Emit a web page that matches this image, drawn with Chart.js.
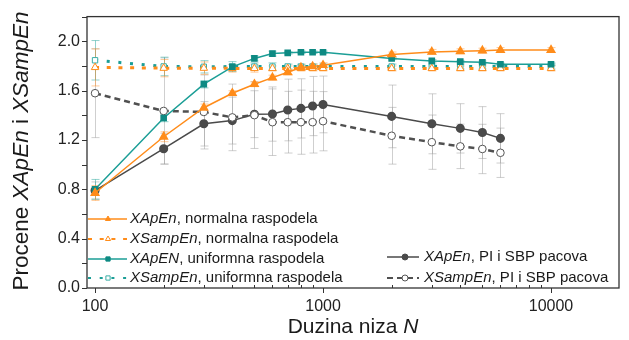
<!DOCTYPE html>
<html><head><meta charset="utf-8">
<script src="https://cdn.jsdelivr.net/npm/chart.js@4/dist/chart.umd.min.js"></script>
<style>html,body{margin:0;padding:0;background:#fff}</style>
</head><body>
<canvas id="c" width="629" height="340"></canvas>
<script>
// ---- data ----
const nAll = [100,200,300,400,500,600,700,800,900,1000,2000,3000,4000,5000,6000,10000];
const nRat = [100,200,300,400,500,600,700,800,900,1000,2000,3000,4000,5000,6000];

const xapenNormal      = [0.77,1.226,1.461,1.579,1.652,1.705,1.749,1.788,1.796,1.806,1.893,1.914,1.919,1.924,1.929,1.929];
const xapenNormalErr   = [0.06,0.04,0.03,0.02,0.02,0.02,0.02,0.02,0.02,0.02,0.02,0.02,0.02,0.02,0.02,0.02];
const xsampenNormal    = [1.788,1.782,1.782,1.78,1.78,1.78,1.78,1.78,1.78,1.78,1.78,1.78,1.78,1.78,1.78,1.78];
const xsampenNormalErr = [0.15,0.07,0.05,0.03,0.03,0.02,0.02,0.02,0.02,0.02,0.02,0.02,0.02,0.02,0.02,0.02];
const xapenUniform     = [0.80,1.378,1.652,1.793,1.861,1.90,1.906,1.911,1.911,1.911,1.861,1.841,1.835,1.83,1.814,1.814];
const xapenUniformErr  = [0.08,0.03,0.03,0.02,0.02,0.02,0.01,0.01,0.01,0.01,0.01,0.01,0.01,0.01,0.01,0.01];
const xsampenUniform   = [1.846,1.796,1.793,1.795,1.795,1.795,1.795,1.795,1.795,1.795,1.795,1.795,1.795,1.795,1.795,1.795];
const xsampenUniformErr= [0.16,0.075,0.05,0.04,0.03,0.03,0.02,0.02,0.02,0.02,0.02,0.02,0.02,0.02,0.02,0.02];
const xapenRat         = [0.79,1.129,1.331,1.357,1.409,1.41,1.443,1.456,1.475,1.488,1.391,1.331,1.294,1.26,1.213];
const xapenRatErr      = [0.07,0.125,0.18,0.19,0.19,0.22,0.25,0.24,0.24,0.23,0.254,0.243,0.2,0.21,0.2];
const xsampenRat       = [1.579,1.435,1.427,1.383,1.401,1.344,1.344,1.344,1.344,1.352,1.234,1.182,1.148,1.127,1.096];
const xsampenRatErr    = [0.36,0.43,0.3,0.27,0.27,0.27,0.25,0.26,0.25,0.24,0.23,0.22,0.18,0.2,0.2];

const xTickValues = [100,200,300,400,500,600,700,800,900,1000,2000,3000,4000,5000,6000,7000,8000,9000,10000];
const xLabelValues = [100,1000,10000];
const yLabelStep = 0.4;

const FONT = "'Liberation Sans', Arial, sans-serif";
const ORANGE = '#ff8c1a', TEAL = '#1b9e96', TEALM = '#0e8a83', GRAY = '#4a4a4a';

function pts(xs, ys){ return xs.map((x,i)=>({x:x, y:ys[i]})); }

const datasets = [
  {label:'XApEn, PI i SBP pacova', data:pts(nRat,xapenRat), err:xapenRatErr, errColor:'rgba(160,160,160,0.5)',
   borderColor:GRAY, borderWidth:1.5, pointStyle:'circle', pointRadius:3.8, pointBackgroundColor:GRAY, pointBorderColor:GRAY, order:6},
  {label:'XSampEn, PI i SBP pacova', data:pts(nRat,xsampenRat), err:xsampenRatErr, errColor:'rgba(160,160,160,0.5)',
   borderColor:'#505050', borderWidth:2.5, borderDash:[6,4], pointStyle:'circle', pointRadius:3.8, pointBackgroundColor:'#fff', pointBorderColor:'#555', pointBorderWidth:1, order:5},
  {label:'XSampEn, uniformna raspodela', data:pts(nAll,xsampenUniform), err:xsampenUniformErr, errColor:'rgba(40,165,155,0.5)',
   borderColor:TEAL, borderWidth:3, borderDash:[3,8.7], borderCapStyle:'butt', pointStyle:'rect', pointRadius:3.8, pointBackgroundColor:'#fff', pointBorderColor:'#3aaea6', pointBorderWidth:1, order:4},
  {label:'XSampEn, normalna raspodela', data:pts(nAll,xsampenNormal), err:xsampenNormalErr, errColor:'rgba(255,150,50,0.5)',
   borderColor:ORANGE, borderWidth:3, borderDash:[4,7.7], pointStyle:'triangle', pointRadius:4.3, pointBackgroundColor:'#fff', pointBorderColor:ORANGE, pointBorderWidth:1, order:3},
  {label:'XApEN, uniformna raspodela', data:pts(nAll,xapenUniform), err:xapenUniformErr, errColor:'rgba(40,165,155,0.5)',
   borderColor:TEAL, borderWidth:1.5, pointStyle:'rect', pointRadius:3.6, pointBackgroundColor:TEALM, pointBorderColor:TEALM, order:2},
  {label:'XApEn, normalna raspodela', data:pts(nAll,xapenNormal), err:xapenNormalErr, errColor:'rgba(255,150,50,0.5)',
   borderColor:ORANGE, borderWidth:1.5, pointStyle:'triangle', pointRadius:4.3, pointBackgroundColor:ORANGE, pointBorderColor:ORANGE, order:1}
];
datasets.forEach(d=>{ d.fill=false; d.tension=0; d.clip=false; });

function isPow10(v){ const l=Math.log10(v); return Math.abs(l-Math.round(l))<1e-9; }

const errorBars = {
  id:'errorBars',
  beforeDatasetsDraw(chart){
    const ctx=chart.ctx, xs=chart.scales.x, ys=chart.scales.y;
    chart.data.datasets.forEach(ds=>{
      if(!ds.err) return;
      ctx.save(); ctx.strokeStyle=ds.errColor; ctx.lineWidth=1;
      ds.data.forEach((p,i)=>{
        const e=ds.err[i]; const px=Math.round(xs.getPixelForValue(p.x))+0.5;
        const y1=ys.getPixelForValue(p.y+e), y2=ys.getPixelForValue(p.y-e);
        ctx.beginPath(); ctx.moveTo(px,y1); ctx.lineTo(px,y2);
        ctx.moveTo(px-4,y1); ctx.lineTo(px+4,y1);
        ctx.moveTo(px-4,y2); ctx.lineTo(px+4,y2);
        ctx.stroke();
      });
      ctx.restore();
    });
  }
};

function mixedWidth(ctx, parts, size){
  let w=0; parts.forEach(p=>{ ctx.font=(p.it?'italic ':'')+size+'px '+FONT; w+=ctx.measureText(p.t).width; }); return w;
}
function drawMixed(ctx, parts, x, y, size, align){
  let w=mixedWidth(ctx,parts,size);
  let cx = align==='center' ? x-w/2 : x;
  ctx.textBaseline='middle'; ctx.textAlign='left';
  parts.forEach(p=>{ ctx.font=(p.it?'italic ':'')+size+'px '+FONT; ctx.fillText(p.t,cx,y); cx+=ctx.measureText(p.t).width; });
}

const legendLeft = [
  {ds:5, parts:[{t:'XApEn',it:true},{t:', normalna raspodela'}]},
  {ds:3, parts:[{t:'XSampEn',it:true},{t:', normalna raspodela'}]},
  {ds:4, parts:[{t:'XApEN',it:true},{t:', uniformna raspodela'}]},
  {ds:2, parts:[{t:'XSampEn',it:true},{t:', uniformna raspodela'}]}
];
const legendRight = [
  {ds:0, parts:[{t:'XApEn',it:true},{t:', PI i SBP pacova'}]},
  {ds:1, parts:[{t:'XSampEn',it:true},{t:', PI i SBP pacova'}]}
];

const decor = {
  id:'decor',
  afterDraw(chart){
    const ctx=chart.ctx, a=chart.chartArea, xs=chart.scales.x, ys=chart.scales.y;
    ctx.save();
    // frame
    ctx.strokeStyle='#333'; ctx.lineWidth=1.3;
    ctx.strokeRect(a.left, a.top, a.right-a.left, a.bottom-a.top);
    // x ticks
    ctx.lineWidth=1;
    xTickValues.forEach(v=>{
      const px=Math.round(xs.getPixelForValue(v))+0.5;
      ctx.beginPath();
      if(isPow10(v)){ ctx.moveTo(px,a.bottom); ctx.lineTo(px,a.bottom+5); }
      else { ctx.moveTo(px,a.bottom); ctx.lineTo(px,a.bottom-3); }
      ctx.stroke();
    });
    // y ticks
    ys.ticks.forEach(t=>{
      const py=Math.round(ys.getPixelForValue(t.value))+0.5;
      ctx.beginPath(); ctx.moveTo(a.left,py); ctx.lineTo(a.left-5,py); ctx.stroke();
    });
    // axis titles
    ctx.fillStyle='#1a1a1a';
    drawMixed(ctx,[{t:'Duzina niza '},{t:'N',it:true}], (a.left+a.right)/2, 327, 21, 'center');
    ctx.save(); ctx.translate(22,151); ctx.rotate(-Math.PI/2);
    drawMixed(ctx,[{t:'Procene '},{t:'XApEn',it:true},{t:' i '},{t:'XSampEn',it:true}], 0, 0, 22.5, 'center');
    ctx.restore();
    // legends
    function entry(item, x0, x1, xm, xt, y){
      const ds=chart.data.datasets[item.ds];
      ctx.save();
      ctx.strokeStyle=ds.borderColor; ctx.lineWidth=Math.min(ds.borderWidth,2); ctx.setLineDash(ds.borderDash||[]);
      ctx.beginPath(); ctx.moveTo(x0,y); ctx.lineTo(x1,y); ctx.stroke();
      ctx.setLineDash([]);
      ctx.fillStyle=ds.pointBackgroundColor; ctx.strokeStyle=ds.pointBorderColor; ctx.lineWidth=ds.pointBorderWidth||1;
      Chart.helpers.drawPoint(ctx,{pointStyle:ds.pointStyle, radius:3, rotation:0, borderWidth:ds.pointBorderWidth||1}, xm, y);
      ctx.restore();
      ctx.fillStyle='#1a1a1a';
      drawMixed(ctx,item.parts,xt,y,15,'left');
    }
    [219,239,259,278].forEach((y,i)=>entry(legendLeft[i],88,127,108,130,y));
    [257,278].forEach((y,i)=>entry(legendRight[i],387,419,405,424,y));
    ctx.restore();
  }
};

new Chart(document.getElementById('c'), {
  type:'line',
  data:{datasets:datasets},
  options:{
    responsive:false, animation:false, devicePixelRatio:1,
    layout:{padding:{left:0,right:10,top:7,bottom:0}},
    plugins:{legend:{display:false}, tooltip:{enabled:false}},
    scales:{
      x:{type:'logarithmic', min:92.2, max:19870,
        grid:{display:false, drawTicks:false}, border:{display:false},
        afterBuildTicks:s=>{ s.ticks = xTickValues.map(v=>({value:v, major:isPow10(v)})); },
        afterFit:s=>{ s.height=52; },
        ticks:{autoSkip:false, maxRotation:0, minRotation:0, padding:9, color:'#222', font:{size:16, family:FONT},
          callback:v=> xLabelValues.includes(v) ? String(v) : ''}
      },
      y:{type:'linear', min:0, max:2.2,
        grid:{display:false, drawTicks:false}, border:{display:false},
        afterFit:s=>{ s.width=87; },
        ticks:{stepSize:0.2, padding:7, color:'#222', font:{size:16, family:FONT},
          callback:v=>{ const r=v/yLabelStep; return Math.abs(r-Math.round(r))<1e-6 ? v.toFixed(1) : ''; }}
      }
    }
  },
  plugins:[errorBars, decor]
});
</script></body></html>
